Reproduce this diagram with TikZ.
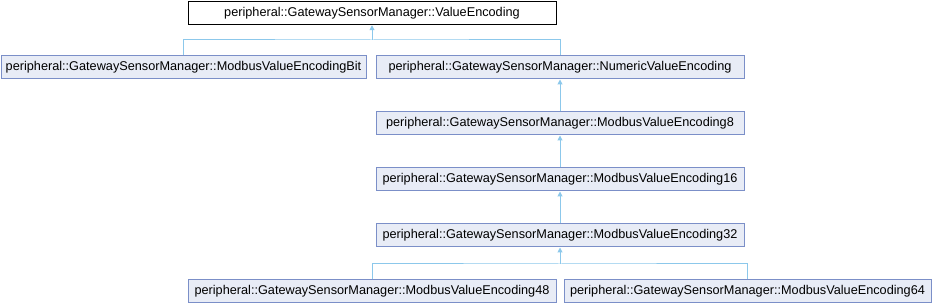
\documentclass[tikz,border=0pt]{standalone}
\usepackage{fontspec}
\setmainfont{Liberation Sans}
\usetikzlibrary{arrows.meta}
\definecolor{boxfill}{HTML}{E8ECF6}
\definecolor{boxdraw}{HTML}{7B8FC8}
\definecolor{edgecol}{HTML}{8CC8EB}
\tikzset{
  cls/.style={draw=boxdraw, fill=boxfill, line width=1pt, minimum width=368pt, minimum height=23pt, inner sep=0pt, font=\fontsize{12.7}{14}\selectfont, anchor=center},
  topcls/.style={cls, draw=black, fill=white},
  link/.style={draw=edgecol, line width=1pt},
  inh/.style={link, -{Triangle[width=5pt,length=5pt]}}
}
\begin{document}
\begin{tikzpicture}[x=1pt,y=-1pt]
\useasboundingbox (0,0) rectangle (932,304);
\node[topcls] (top) at (372,13.25) {peripheral::GatewaySensorManager::ValueEncoding};
\node[cls, minimum width=365pt] (bit) at (183.5,67.5) {peripheral::GatewaySensorManager::ModbusValueEncodingBit};
\node[cls] (num) at (560,67.5) {peripheral::GatewaySensorManager::NumericValueEncoding};
\node[cls] (m8) at (560,123.5) {peripheral::GatewaySensorManager::ModbusValueEncoding8};
\node[cls] (m16) at (560,179.5) {peripheral::GatewaySensorManager::ModbusValueEncoding16};
\node[cls] (m32) at (560,235.5) {peripheral::GatewaySensorManager::ModbusValueEncoding32};
\node[cls] (m48) at (372,291.5) {peripheral::GatewaySensorManager::ModbusValueEncoding48};
\node[cls, minimum width=367pt] (m64) at (747.5,291.5) {peripheral::GatewaySensorManager::ModbusValueEncoding64};
\coordinate (j1) at (372,40);
\coordinate (j2) at (560,264);
\draw[link] (bit.north) |- (j1) -| (num.north);
\draw[inh] (j1) -- (top.south);
\draw[inh] (m8.north) -- (num.south);
\draw[inh] (m16.north) -- (m8.south);
\draw[inh] (m32.north) -- (m16.south);
\draw[link] (m48.north) |- (j2) -| (m64.north);
\draw[inh] (j2) -- (m32.south);
\end{tikzpicture}
\end{document}
